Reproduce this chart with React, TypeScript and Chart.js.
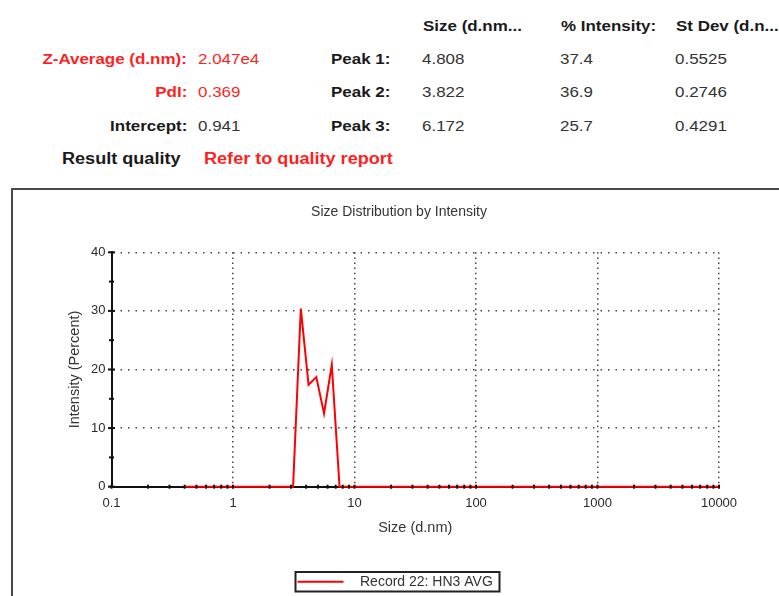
import React, { useEffect, useRef } from "react";
import { Chart, registerables } from "chart.js";

Chart.register(...registerables);

// ---------- data ----------
const sizes = [
  0.4, 0.4632, 0.5365, 0.6213, 0.7195, 0.8332, 0.9649, 1.117, 1.294, 1.499,
  1.736, 2.01, 2.328, 2.696, 3.122, 3.615, 4.187, 4.849, 5.615, 6.503,
  7.531, 8.721, 10.1, 11.7, 13.54, 15.69, 18.17, 21.04, 24.36, 28.21,
  32.67, 37.84, 43.82, 50.75, 58.77, 68.06, 78.82, 91.28, 105.7, 122.4,
  141.8, 164.2, 190.1, 220.2, 255.0, 295.3, 342.0, 396.1, 458.7, 531.2,
  615.1, 712.4, 825.0, 955.4, 1106, 1281, 1484, 1718, 1990, 2305,
  2669, 3091, 3580, 4145, 4801, 5560, 6439, 7456, 8635, 10000,
];
const intensity = [
  0, 0, 0, 0, 0, 0, 0, 0, 0, 0,
  0, 0, 0, 0, 0, 30.4, 17.4, 18.7, 12.5, 20.8,
  0, 0, 0, 0, 0, 0, 0, 0, 0, 0,
  0, 0, 0, 0, 0, 0, 0, 0, 0, 0,
  0, 0, 0, 0, 0, 0, 0, 0, 0, 0,
  0, 0, 0, 0, 0, 0, 0, 0, 0, 0,
  0, 0, 0, 0, 0, 0, 0, 0, 0, 0,
];
const xTickValues = [0.1, 1, 10, 100, 1000, 10000];
const xMinorMultipliers = [2, 3, 4, 5, 6, 7, 8, 9];
const yTickValues = [0, 10, 20, 30, 40];
const yMinorTicks = [5, 15, 25, 35];

const seriesLabel = "Record 22: HN3 AVG";
const chartTitle = "Size Distribution by Intensity";
const xTitle = "Size (d.nm)";
const yTitle = "Intensity (Percent)";

const summaryLabels = ["Z-Average (d.nm):", "PdI:", "Intercept:"];
const summaryValues = ["2.047e4", "0.369", "0.941"];
const summaryRed = [true, true, false];
const peakColumns = ["Size (d.nm...", "% Intensity:", "St Dev (d.n..."];
const peakNames = ["Peak 1:", "Peak 2:", "Peak 3:"];
const peakSizes = ["4.808", "3.822", "6.172"];
const peakIntensities = ["37.4", "36.9", "25.7"];
const peakStDevs = ["0.5525", "0.2746", "0.4291"];
const qualityLabel = "Result quality";
const qualityValue = "Refer to quality report";

// ---------- styles ----------
const FONT = '"Liberation Sans", Arial, Helvetica, sans-serif';
const RED = "#ff1f1f";
const W = 779;
const H = 596;
const ROW_Y = [59, 91.5, 125.5];
const HEAD_Y = 26;
const COL_X = [422, 560, 675];

type TxtProps = {
  x: number;
  y: number;
  align?: "left" | "right";
  size?: number;
  bold?: boolean;
  color?: string;
  children: React.ReactNode;
};

function Txt({ x, y, align = "left", size = 15, bold = false, color = "#1a1a1a", children }: TxtProps) {
  const style: React.CSSProperties = {
    position: "absolute",
    top: y,
    whiteSpace: "nowrap",
    fontFamily: FONT,
    fontSize: size,
    fontWeight: bold ? 700 : 400,
    color,
    lineHeight: 1.15,
    transform: "translateY(-50%) scaleX(1.13)",
    transformOrigin: align === "right" ? "right center" : "left center",
  };
  if (align === "right") style.right = W - x;
  else style.left = x;
  return <span style={style}>{children}</span>;
}

const axisTicksPlugin = {
  id: "axisTicks",
  afterDatasetsDraw(chart: any) {
    const { ctx } = chart;
    const xs = chart.scales.x;
    const ys = chart.scales.y;
    const x0 = xs.getPixelForValue(xTickValues[0]);
    const y0 = ys.getPixelForValue(yTickValues[0]);
    ctx.save();
    ctx.fillStyle = "#111";
    for (let i = 0; i < xTickValues.length - 1; i++) {
      for (const m of xMinorMultipliers) {
        const px = xs.getPixelForValue(xTickValues[i] * m);
        ctx.fillRect(px - 1, y0 - 2, 2, 4);
      }
    }
    for (const v of xTickValues) {
      const px = xs.getPixelForValue(v);
      ctx.fillRect(px - 1, y0 - 2, 2, 4);
    }
    for (const v of yTickValues) {
      const py = ys.getPixelForValue(v);
      ctx.fillRect(x0 - 3.5, py - 1, 7, 2);
    }
    for (const v of yMinorTicks) {
      const py = ys.getPixelForValue(v);
      ctx.fillRect(x0 - 2.5, py - 1, 5, 2);
    }
    ctx.restore();
  },
};

const boxedLegendPlugin = {
  id: "boxedLegend",
  afterDraw(chart: any, _args: any, opts: any) {
    const ds = chart.data.datasets[0];
    const { ctx } = chart;
    ctx.save();
    ctx.strokeStyle = opts.frameColor;
    ctx.lineWidth = opts.frameWidth;
    ctx.strokeRect(opts.left, opts.top, opts.width, opts.height);
    const cy = opts.top + opts.height / 2;
    ctx.strokeStyle = ds.borderColor;
    ctx.lineWidth = ds.borderWidth;
    ctx.beginPath();
    ctx.moveTo(opts.left + 2, cy);
    ctx.lineTo(opts.left + 2 + opts.lineLength, cy);
    ctx.stroke();
    ctx.fillStyle = opts.textColor;
    ctx.font = `${opts.fontSize}px ${FONT}`;
    ctx.textBaseline = "middle";
    ctx.textAlign = "left";
    ctx.fillText(ds.label, opts.left + opts.textOffset, cy + 0.5);
    ctx.restore();
  },
};

function DistributionChart() {
  const ref = useRef<HTMLCanvasElement | null>(null);
  useEffect(() => {
    if (!ref.current) return;
    const chart = new Chart(ref.current, {
      type: "line",
      data: {
        datasets: [
          {
            label: seriesLabel,
            data: sizes.map((s, i) => ({ x: s, y: intensity[i] })),
            borderColor: "#ff0000",
            backgroundColor: "#ff0000",
            borderWidth: 2,
            pointRadius: 0,
            tension: 0,
            fill: false,
            clip: false as any,
          },
        ],
      },
      options: {
        animation: false,
        responsive: false,
        events: [],
        layout: { padding: { left: 79, right: 60, top: 0, bottom: 59.3 } },
        plugins: {
          legend: { display: false },
          tooltip: { enabled: false },
          title: {
            display: true,
            text: chartTitle,
            color: "#333",
            font: { family: FONT, size: 14, weight: "normal" as any },
            padding: { top: 203.6, bottom: 31.9 },
          },
          boxedLegend: {
            left: 295.5,
            top: 572,
            width: 204,
            height: 19.5,
            frameColor: "#222",
            frameWidth: 2,
            lineLength: 46,
            textOffset: 64.5,
            textColor: "#333",
            fontSize: 14,
          },
        } as any,
        scales: {
          x: {
            type: "logarithmic",
            min: 0.1,
            max: 10000,
            afterBuildTicks: (s: any) => {
              s.ticks = xTickValues.map((v) => ({ value: v }));
            },
            afterFit: (s: any) => {
              s.height = 50;
            },
            ticks: {
              autoSkip: false,
              maxRotation: 0,
              minRotation: 0,
              padding: 9,
              color: "#2a2a2a",
              font: { family: FONT, size: 13 },
              callback: (v: any) => String(v),
            },
            grid: { drawTicks: false, color: "rgba(50,50,50,0.9)", lineWidth: 1.5 },
            border: { display: true, color: "#111", width: 2, dash: [1.5, 3.6] },
            title: {
              display: true,
              text: xTitle,
              color: "#333",
              font: { family: FONT, size: 14.5 },
              padding: { top: 0, bottom: 0 },
            },
          } as any,
          y: {
            type: "linear",
            min: 0,
            max: 40,
            afterBuildTicks: (s: any) => {
              s.ticks = yTickValues.map((v) => ({ value: v }));
            },
            afterFit: (s: any) => {
              s.width = 32.5;
            },
            ticks: {
              padding: 6,
              color: "#2a2a2a",
              font: { family: FONT, size: 13 },
              callback: (v: any) => String(v),
            },
            grid: { drawTicks: false, color: "rgba(50,50,50,0.9)", lineWidth: 1.5 },
            border: { display: true, color: "#111", width: 2, dash: [1.5, 6] },
            title: {
              display: true,
              text: yTitle,
              color: "#333",
              font: { family: FONT, size: 14.5 },
              padding: { top: -12.7, bottom: 0 },
            },
          } as any,
        },
      },
      plugins: [axisTicksPlugin, boxedLegendPlugin],
    });
    return () => chart.destroy();
  }, []);
  return (
    <canvas
      ref={ref}
      width={W}
      height={H}
      style={{ position: "absolute", left: 0, top: 0, width: W, height: H }}
    />
  );
}

export default function App() {
  useEffect(() => {
    document.body.style.margin = "0";
    document.body.style.overflow = "hidden";
  }, []);
  return (
    <div
      style={{
        position: "fixed",
        left: 0,
        top: 0,
        width: W,
        height: H,
        overflow: "hidden",
        background: "#fff",
      }}
    >
      {peakColumns.map((c, i) => (
        <Txt key={c} x={COL_X[i] + 1} y={HEAD_Y} bold>
          {c}
        </Txt>
      ))}
      {summaryLabels.map((l, i) => (
        <Txt key={l} x={187} y={ROW_Y[i]} align="right" bold color={summaryRed[i] ? RED : "#1a1a1a"}>
          {l}
        </Txt>
      ))}
      {summaryValues.map((v, i) => (
        <Txt key={"sv" + i} x={198} y={ROW_Y[i]} color={summaryRed[i] ? RED : "#333"}>
          {v}
        </Txt>
      ))}
      {peakNames.map((p, i) => (
        <Txt key={p} x={331} y={ROW_Y[i]} bold>
          {p}
        </Txt>
      ))}
      {peakSizes.map((v, i) => (
        <Txt key={"ps" + i} x={COL_X[0]} y={ROW_Y[i]} color="#333">
          {v}
        </Txt>
      ))}
      {peakIntensities.map((v, i) => (
        <Txt key={"pi" + i} x={COL_X[1]} y={ROW_Y[i]} color="#333">
          {v}
        </Txt>
      ))}
      {peakStDevs.map((v, i) => (
        <Txt key={"pd" + i} x={COL_X[2]} y={ROW_Y[i]} color="#333">
          {v}
        </Txt>
      ))}
      <Txt x={62} y={159} size={16} bold>
        {qualityLabel}
      </Txt>
      <Txt x={204} y={158.5} size={16} bold color={RED}>
        {qualityValue}
      </Txt>
      <div
        style={{
          position: "absolute",
          left: 11,
          top: 188,
          width: 900,
          height: 600,
          border: "2px solid #4a4a4a",
          boxSizing: "border-box",
        }}
      />
      <DistributionChart />
    </div>
  );
}
